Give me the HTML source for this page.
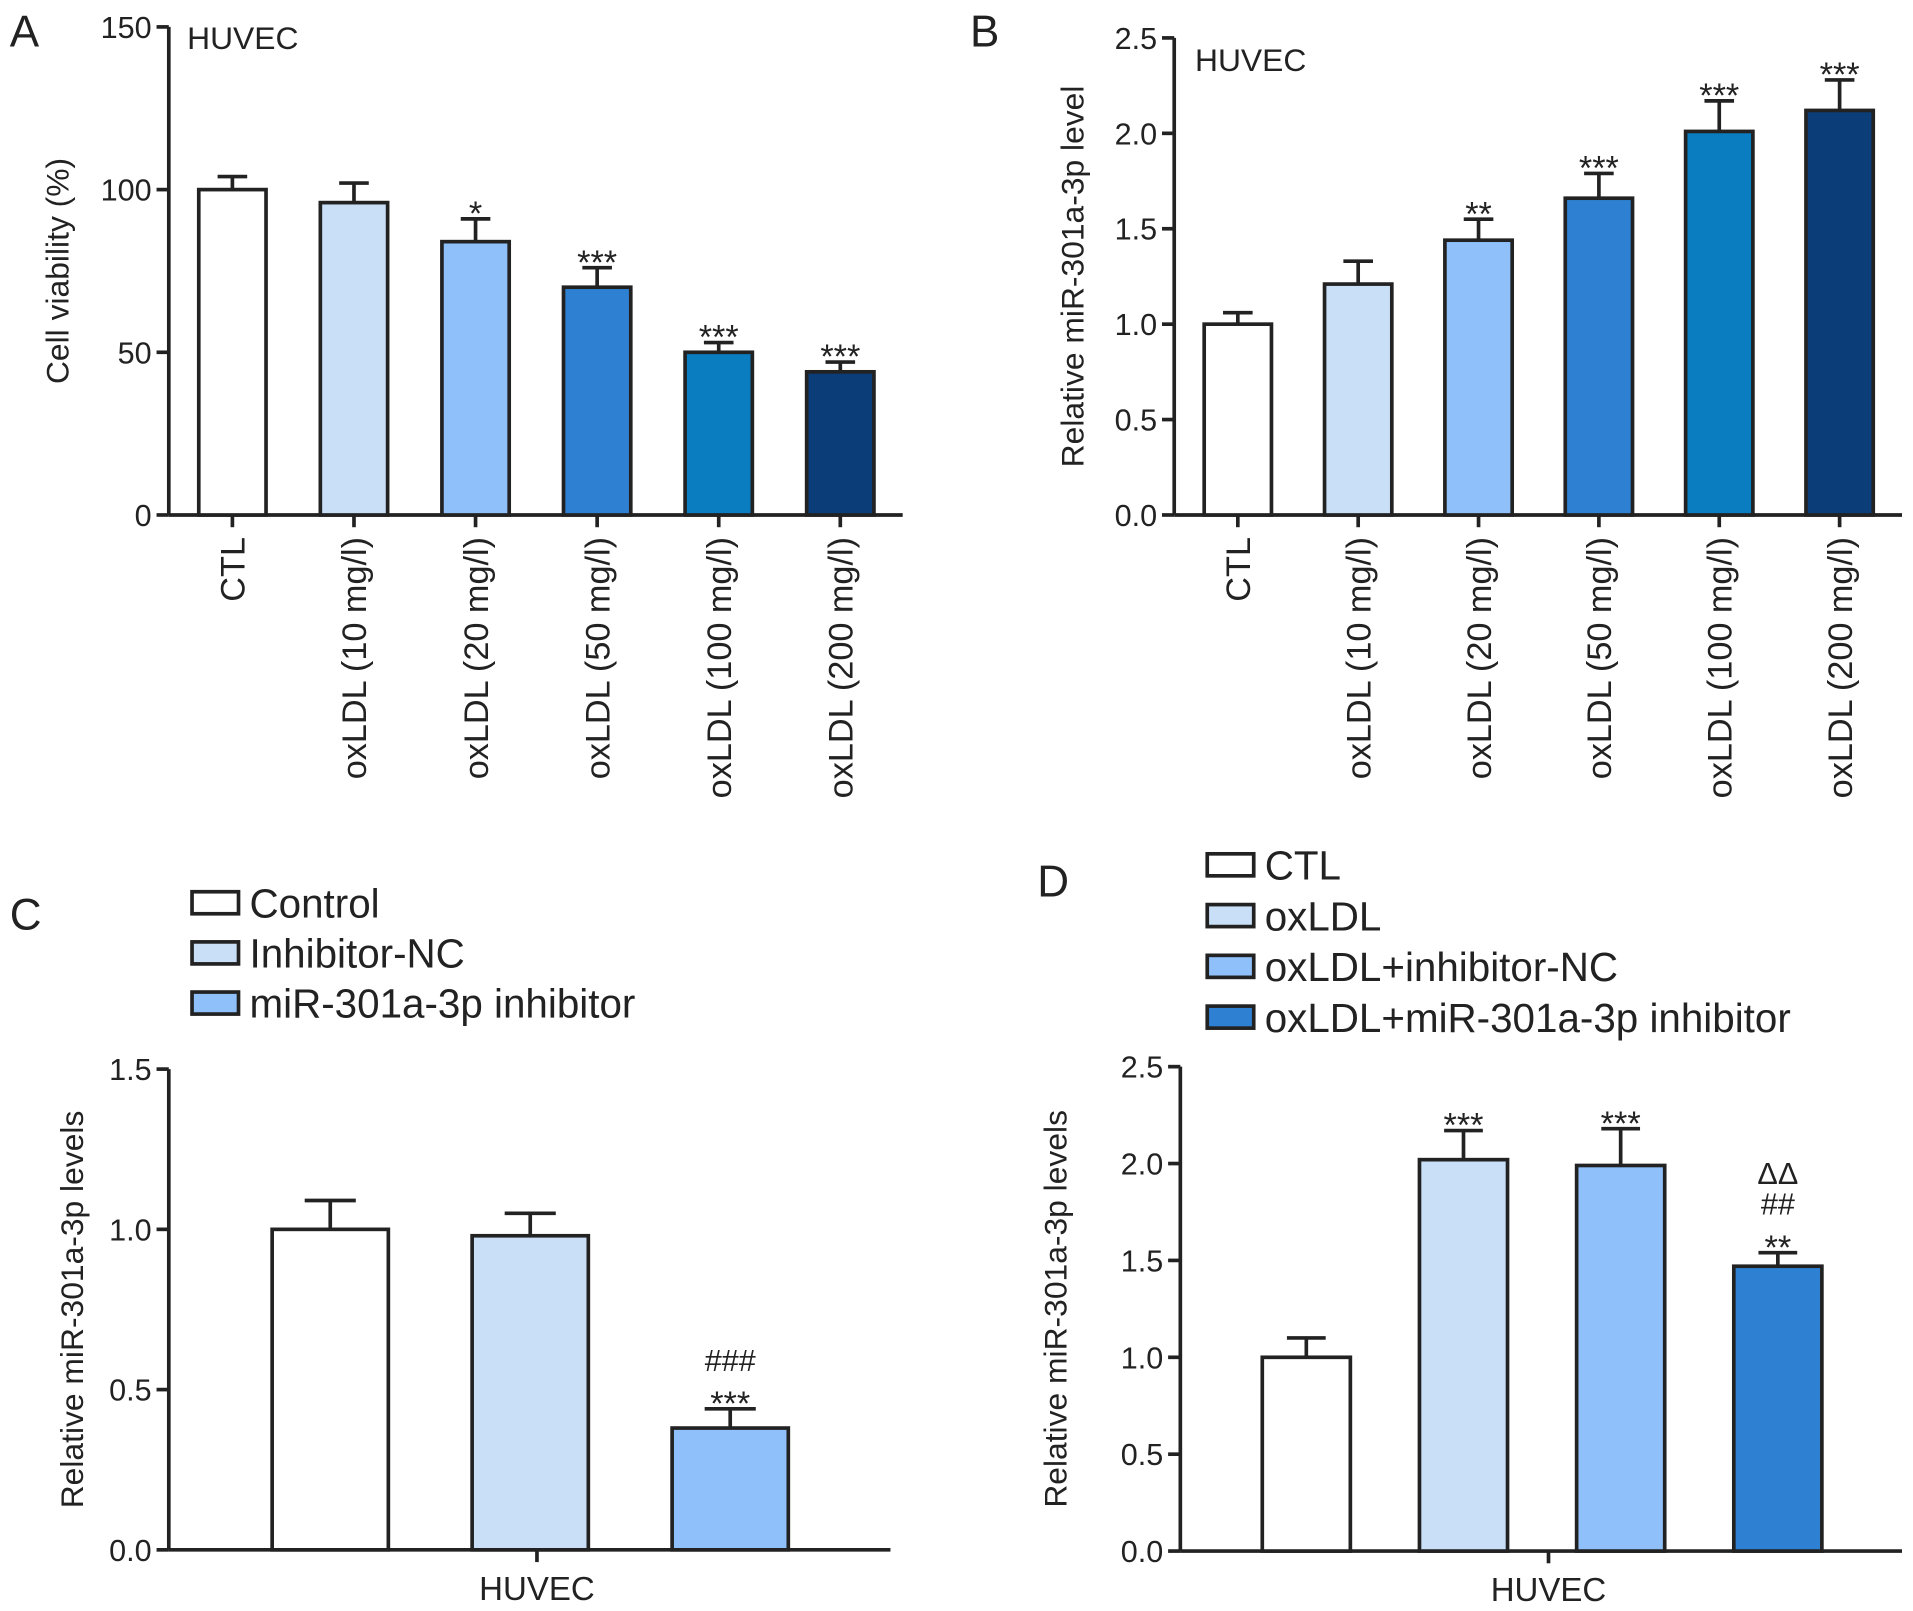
<!DOCTYPE html>
<html><head><meta charset="utf-8">
<style>
html,body{margin:0;padding:0;background:#fff;}
svg{display:block;}
text{font-family:"Liberation Sans",Arial,sans-serif;fill:#222;}
</style></head>
<body>
<svg id="fig" width="1913" height="1611" viewBox="0 0 1564 1317" preserveAspectRatio="none" xmlns="http://www.w3.org/2000/svg"></svg>
<script>
const catsAB = ["CTL","oxLDL (10 mg/l)","oxLDL (20 mg/l)","oxLDL (50 mg/l)","oxLDL (100 mg/l)","oxLDL (200 mg/l)"];
const colorsAB = ["#ffffff","#c9dff8","#8fc0f9","#2e80d2","#0a7cc0","#0b3d78"];
const valuesA = [100,96,84,70,50,44];
const errA = [104,102,91,76,53,47];
const sigA = ["","","*","***","***","***"];
const ticksA = [0,50,100,150];
const valuesB = [1.0,1.21,1.44,1.66,2.01,2.12];
const errB = [1.06,1.33,1.55,1.79,2.17,2.28];
const sigB = ["","","**","***","***","***"];
const ticksB = [0.0,0.5,1.0,1.5,2.0,2.5];
const catsC = ["Control","Inhibitor-NC","miR-301a-3p inhibitor"];
const colorsC = ["#ffffff","#c9dff8","#8fc0f9"];
const valuesC = [1.0,0.98,0.38];
const errC = [1.09,1.05,0.44];
const sigC = [[],[],["***","###"]];
const ticksC = [0.0,0.5,1.0,1.5];
const catsD = ["CTL","oxLDL","oxLDL+inhibitor-NC","oxLDL+miR-301a-3p inhibitor"];
const colorsD = ["#ffffff","#c9dff8","#8fc0f9","#2e80d2"];
const valuesD = [1.0,2.02,1.99,1.47];
const errD = [1.10,2.17,2.18,1.54];
const sigD = [[],["***"],["***"],["**","##","ΔΔ"]];
const ticksD = [0.0,0.5,1.0,1.5,2.0,2.5];

const svg = document.getElementById('fig');
const NS = "http://www.w3.org/2000/svg";
function mk(tag, attrs, parent){
  const e = document.createElementNS(NS, tag);
  for (const k in attrs) e.setAttribute(k, attrs[k]);
  (parent||svg).appendChild(e);
  return e;
}
function txt(s, attrs, parent){ const t = mk('text', attrs, parent); t.textContent = s; return t; }

function panel(p){
  const g = mk('g', {});
  
  
  const y = v => p.y0 - (v - p.ymin) / (p.ymax - p.ymin) * (p.y0 - p.y1);
  const n = p.values.length;
  const x = i => p.xc0 + i * p.dx;
  const ya = mk('line', {x1:p.ax, y1:p.y1, x2:p.ax, y2:p.y0, stroke:'#222','stroke-width':3}, g);
  
  
  const xa = mk('line', {x1:p.ax, y1:p.y0, x2:p.axEnd, y2:p.y0, stroke:'#222','stroke-width':3}, g);
  
  
  p.ticks.forEach(t => {
    mk('line', {x1:p.ax-10, y1:y(t), x2:p.ax, y2:y(t), stroke:'#222','stroke-width':3}, g);
    const tl = txt(p.fmt(t), {x:p.ax-14, y:y(t)+9, 'text-anchor':'end','font-size':25}, g);
    
    
  });
  const yt = txt(p.ylabel, {x:0,y:0,'font-size':26,'text-anchor':'middle',transform:`translate(${p.ylx},${(p.y0+p.y1)/2}) rotate(-90)`}, g);
  
  
  for (let i=0;i<n;i++){
    const xc = x(i), top = y(p.values[i]), et = y(p.err[i]);
    mk('line', {x1:xc, y1:top, x2:xc, y2:et, stroke:'#222','stroke-width':3}, g);
    mk('line', {x1:xc-p.bw*0.22, y1:et, x2:xc+p.bw*0.22, y2:et, stroke:'#222','stroke-width':3}, g);
    const b = mk('rect', {x:xc-p.bw/2, y:top, width:p.bw, height:p.y0-top, fill:p.colors[i], stroke:'#222','stroke-width':3}, g);
    
    
    const s = p.sig[i];
    const arr = Array.isArray(s) ? s : (s ? [s] : []);
    arr.forEach((m, k) => {
      const star = m.indexOf('*')>=0;
      const st = txt(m, {x:xc, y:et-6-k*25 + (star?11:0), 'text-anchor':'middle','font-size':star?28:25}, g);
      
      
    });
    if (p.xticks){
      mk('line', {x1:xc, y1:p.y0, x2:xc, y2:p.y0+10, stroke:'#222','stroke-width':3}, g);
      const cl = txt(p.cats[i], {x:0,y:0,'font-size':28,'text-anchor':'end',transform:`translate(${xc+10},${p.y0+18}) rotate(-90)`}, g);
      
      
    }
  }
  if (p.xlabel){
    const mid = (p.ax + p.axEnd)/2 + 6;
    mk('line', {x1:mid, y1:p.y0, x2:mid, y2:p.y0+10, stroke:'#222','stroke-width':3}, g);
    const xl = txt(p.xlabel, {x:mid, y:p.y0+41, 'text-anchor':'middle','font-size':27}, g);
    
    
  }
  if (p.title){
    const tt = txt(p.title[0], {x:p.title[1], y:p.title[2], 'font-size':26}, g);
    
    
  }
  if (p.legend){
    p.cats.forEach((c, i) => {
      const ly = p.legend[1] + i*p.legend[2];
      const lr = mk('rect', {x:p.legend[0], y:ly-9, width:38, height:18, fill:p.colors[i], stroke:'#222','stroke-width':3}, g);
      
      
      const lt = txt(c, {x:p.legend[0]+47, y:ly+12, 'font-size':33}, g);
      
      
    });
  }
  const pl = txt(p.letter[0], {x:p.letter[1], y:p.letter[2], 'font-size':36}, g);
  
  
}

panel({name:'panel-a', cats:catsAB, colors:colorsAB, values:valuesA, err:errA, sig:sigA, ticks:ticksA,
  fmt:t=>String(t), ymin:0, ymax:150, y0:421, y1:22, ax:138, axEnd:738, xc0:190, dx:99.4, bw:55,
  ylabel:'Cell viability (%)', ylx:56, xticks:true, title:['HUVEC',153,40], letter:['A',8,38]});
panel({name:'panel-b', cats:catsAB, colors:colorsAB, values:valuesB, err:errB, sig:sigB, ticks:ticksB,
  fmt:t=>t.toFixed(1), ymin:0, ymax:2.5, y0:421, y1:31, ax:960, axEnd:1555, xc0:1012, dx:98.4, bw:55,
  ylabel:'Relative miR-301a-3p level', ylx:886, xticks:true, title:['HUVEC',977,58], letter:['B',793,38]});
panel({name:'panel-c', cats:catsC, colors:colorsC, values:valuesC, err:errC, sig:sigC, ticks:ticksC,
  fmt:t=>t.toFixed(1), ymin:0, ymax:1.5, y0:1267, y1:874, ax:138, axEnd:728, xc0:270, dx:163.5, bw:95,
  ylabel:'Relative miR-301a-3p levels', ylx:68, xlabel:'HUVEC', legend:[157,738,41], letter:['C',8,760]});
panel({name:'panel-d', cats:catsD, colors:colorsD, values:valuesD, err:errD, sig:sigD, ticks:ticksD,
  fmt:t=>t.toFixed(1), ymin:0, ymax:2.5, y0:1268, y1:872, ax:965, axEnd:1555, xc0:1068, dx:128.5, bw:72,
  ylabel:'Relative miR-301a-3p levels', ylx:872, xlabel:'HUVEC', legend:[987,707,41.5], letter:['D',848,733]});
</script>
</body></html>
